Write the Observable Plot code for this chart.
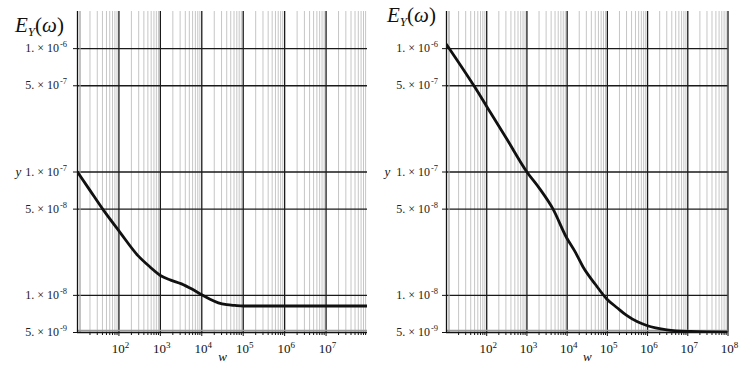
<!DOCTYPE html>
<html><head><meta charset="utf-8">
<script src="https://cdn.jsdelivr.net/npm/d3@7"></script>
<script src="https://cdn.jsdelivr.net/npm/@observablehq/plot@0.6"></script>
<style>
body{margin:0;background:#fff;}
#wrap{position:relative;width:755px;height:376px;overflow:hidden;}
#wrap svg{position:absolute;top:0;}
</style></head><body><div id="wrap"></div>
<script>
// Left panel curve E_Y(w)
const leftW = [10, 20, 40.7, 105, 288, 562, 1000, 1778, 3236, 5623, 10000, 15850, 25120, 39810, 63100, 100000, 1e8];
const leftE = [1.0e-7, 7.1e-8, 5.0e-8, 3.26e-8, 2.1e-8, 1.7e-8, 1.45e-8, 1.33e-8, 1.24e-8, 1.13e-8, 1.01e-8, 9.3e-9, 8.7e-9, 8.4e-9, 8.28e-9, 8.2e-9, 8.2e-9];
// Right panel curve E_Y(w)
const rightW = [10, 50, 100, 316, 1000, 2089, 4467, 9550, 15850, 25120, 50120, 95500, 177800, 302000, 562000, 955000, 3020000, 11750000, 1e8];
const rightE = [1.08e-6, 4.9e-7, 3.4e-7, 1.85e-7, 1.0e-7, 7.3e-8, 5.0e-8, 2.96e-8, 2.25e-8, 1.69e-8, 1.23e-8, 9.4e-9, 7.9e-9, 6.87e-9, 6.1e-9, 5.7e-9, 5.26e-9, 5.1e-9, 5.03e-9];

const yTickValues = [1e-6, 5e-7, 1e-7, 5e-8, 1e-8, 5e-9];
const yTickMantissa = ["1.", "5.", "1.", "5.", "1.", "5."];
const yTickExponent = ["-6", "-7", "-7", "-8", "-8", "-9"];
const xMajorLeft = [1e2, 1e3, 1e4, 1e5, 1e6, 1e7];
const xMajorRight = [1e2, 1e3, 1e4, 1e5, 1e6, 1e7, 1e8];
const xLabelExpLeft = ["2", "3", "4", "5", "6", "7"];
const xLabelExpRight = ["2", "3", "4", "5", "6", "7", "8"];
const minorMultipliers = [2, 3, 4, 5, 6, 7, 8, 9];
const minorDecades = [1e1, 1e2, 1e3, 1e4, 1e5, 1e6, 1e7];
const xMinor = minorDecades.flatMap(d => minorMultipliers.map(m => m * d));

const FONT = "'Liberation Serif', 'DejaVu Serif', serif";

function panel({w, e, majors, exps, left, width, mL, mR, titleX, titleY, labGap, yLabX}) {
  const data = w.map((v, i) => ({w: v, e: e[i]}));
  const svg = Plot.plot({
    width, height: 376,
    marginLeft: mL, marginRight: mR, marginTop: 11, marginBottom: 44,
    style: {fontFamily: FONT, background: "transparent", overflow: "visible"},
    x: {type: "log", domain: [10, 1e8]},
    y: {type: "log", domain: [5e-9, 2e-6]},
    marks: [
      Plot.ruleX(xMinor, {stroke: "#c6c6c6", strokeWidth: 1}),
      Plot.ruleX(majors, {stroke: "#1a1a1a", strokeWidth: 1.3}),
      Plot.ruleY(yTickValues.slice(0, 5), {stroke: "#1a1a1a", strokeWidth: 1.3}),
      Plot.ruleY([5e-9], {stroke: "#9a9a9a", strokeWidth: 1.5, dy: -2}),
      Plot.ruleX([10], {stroke: "#9a9a9a", strokeWidth: 1.2, dx: 2.5}),
      Plot.ruleY([5e-9], {stroke: "#111", strokeWidth: 1.3}),
      Plot.ruleX([10], {stroke: "#111", strokeWidth: 1.3}),
      Plot.line(data, {x: "w", y: "e", stroke: "#111", strokeWidth: 2.8, curve: "monotone-x", clip: true}),
      Plot.axisX(xMinor, {tickSize: 3, tickFormat: () => "", stroke: "#111", label: null}),
      Plot.axisX(majors, {tickSize: 4, tickFormat: () => "", stroke: "#111", label: null}),
      Plot.axisY(yTickValues, {tickSize: 4, tickFormat: () => "", stroke: "#111", label: null}),
      Plot.text(["w"], {frameAnchor: "bottom", dy: 28, text: d => d, fontSize: 13, fontStyle: "italic", fill: "#111"}),
      Plot.text(["y"], {y: [1e-7], frameAnchor: "left", dx: yLabX, text: d => d, fontSize: 13, fontStyle: "italic", fill: "#111"})
    ]
  });
  svg.style.left = left + "px";
  const sx = svg.scale("x"), sy = svg.scale("y");
  const root = d3.select(svg);
  // y tick labels with superscript exponents
  const gy = root.append("g").style("font-family", FONT).attr("fill", "#222").attr("text-anchor", "end");
  yTickValues.forEach((v, i) => {
    const t = gy.append("text").attr("x", mL - labGap).attr("y", sy.apply(v) + 4).style("font-size", "12px");
    t.append("tspan").text(yTickMantissa[i] + "\u00a0×\u00a010");
    t.append("tspan").style("font-size", "8.5px").attr("dx", 1).attr("dy", -5).text(yTickExponent[i]);
  });
  // x tick labels 10^k
  const gx = root.append("g").style("font-family", FONT).attr("fill", "#111").attr("text-anchor", "middle");
  majors.forEach((v, i) => {
    const t = gx.append("text").attr("x", sx.apply(v) + 2).attr("y", 353).style("font-size", "13px");
    t.append("tspan").text("10");
    t.append("tspan").style("font-size", "9px").attr("dy", -5).text(exps[i]);
  });
  // title E_Y(ω)
  const t = root.append("text")
    .attr("x", titleX).attr("y", titleY).attr("text-anchor", "start")
    .style("font-family", FONT).style("font-size", "21px").attr("fill", "#111");
  t.append("tspan").attr("font-style", "italic").text("E");
  t.append("tspan").attr("font-style", "italic").style("font-size", "13px").attr("dy", 4).text("Y");
  t.append("tspan").attr("dy", -4).text("(");
  t.append("tspan").attr("font-style", "italic").text("ω");
  t.append("tspan").text(")");
  document.getElementById("wrap").appendChild(svg);
}

panel({w: leftW, e: leftE, majors: xMajorLeft, exps: xLabelExpLeft, left: 0, width: 375, mL: 77, mR: 8, titleX: 15, titleY: 32, labGap: 10, yLabX: -62});
panel({w: rightW, e: rightE, majors: xMajorRight, exps: xLabelExpRight, left: 375, width: 380, mL: 71, mR: 27.5, titleX: 12, titleY: 22, labGap: 8, yLabX: -62});
</script></body></html>
